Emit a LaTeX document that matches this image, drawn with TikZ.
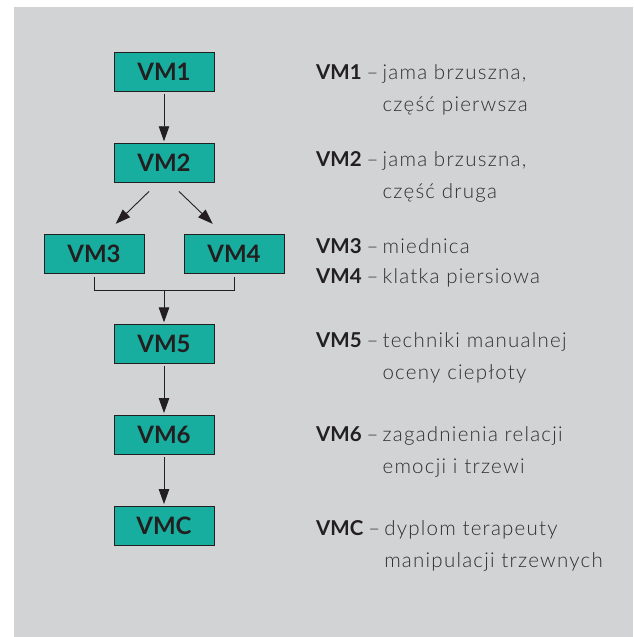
\documentclass[tikz,border=0pt]{standalone}
\usepackage{fontspec}
\setmainfont{Lato}
\newfontfamily\lightfont{Lato Light}[LetterSpace=6]
\usetikzlibrary{arrows.meta,calc}
\definecolor{bg}{HTML}{D1D3D4}
\definecolor{boxteal}{HTML}{17AE9F}
\definecolor{ink}{HTML}{231F20}
\definecolor{txt}{HTML}{2E2E30}
\newcommand{\lab}[1]{{\normalfont\bfseries\color{ink}#1}\hspace{5pt}–\hspace{4pt}}
\begin{document}
\begin{tikzpicture}[x=1pt,y=-1pt,
  box/.style={draw=ink, line width=0.9pt, fill=boxteal, minimum width=100pt, minimum height=39pt, inner sep=0pt, font=\fontsize{24}{24}\selectfont\bfseries, text=ink},
  arr/.style={draw=ink, line width=0.9pt, -{Triangle[length=15pt,width=10.5pt]}, shorten >=2pt, shorten <=2pt},
  ln/.style={draw=ink, line width=0.9pt},
  desc/.style={anchor=base west, inner sep=0pt, font=\fontsize{20.5}{32}\selectfont\lightfont, text=txt}]
\useasboundingbox (0,0) rectangle (633,637);
\fill[bg] (14,7) rectangle (633,637);
% boxes
\node[box] (VM1) at (164,72.2) {VM1};
\node[box] (VM2) at (164,163.2) {VM2};
\node[box] (VM3) at (94,253.8) {VM3};
\node[box] (VM4) at (234,253.8) {VM4};
\node[box] (VM5) at (164,344.3) {VM5};
\node[box] (VM6) at (164,435) {VM6};
\node[box] (VMC) at (164,526) {VMC};
% connectors
\draw[arr] (VM1) -- (VM2);
\draw[arr, shorten <=0pt, shorten >=0pt] ($(VM2.south)+(-15,8.3)$) -- ($(VM3.north)+(21.7,-10)$);
\draw[arr, shorten <=0pt, shorten >=0pt] ($(VM2.south)+(15,8.3)$) -- ($(VM4.north)+(-21.3,-10)$);
\coordinate (J) at (164,290);
\draw[ln] ([yshift=-3pt]VM3.south) -- (VM3.south |- J) -- (VM4.south |- J) -- ([yshift=-3pt]VM4.south);
\draw[arr, shorten <=0pt] (J) -- (VM5);
\draw[arr] (VM5) -- (VM6);
\draw[arr] (VM6) -- (VMC);
% descriptions
\renewcommand{\arraystretch}{1}
\node[desc] (d1) at (316,79.3) {\begin{tabular}[t]{@{}l@{}l@{}}\lab{VM1} & jama brzuszna,\\ & część pierwsza\end{tabular}};
\node[desc] (d2) at (316,166) {\begin{tabular}[t]{@{}l@{}l@{}}\lab{VM2} & jama brzuszna,\\ & część druga\end{tabular}};
\node[desc] (d3) at (316,253.3) {\lab{VM3}miednica};
\node[desc] (d4) at (316,283) {\lab{VM4}klatka piersiowa};
\node[desc] (d5) at (316,347.3) {\begin{tabular}[t]{@{}l@{}l@{}}\lab{VM5} & techniki manualnej\\ & oceny ciepłoty\end{tabular}};
\node[desc] (d6) at (316,441.7) {\begin{tabular}[t]{@{}l@{}l@{}}\lab{VM6} & zagadnienia relacji\\ & emocji i trzewi\end{tabular}};
\node[desc] (d7) at (316,535.7) {\begin{tabular}[t]{@{}l@{}l@{}}\lab{VMC} & dyplom terapeuty\\ & manipulacji trzewnych\end{tabular}};
\end{tikzpicture}
\end{document}
